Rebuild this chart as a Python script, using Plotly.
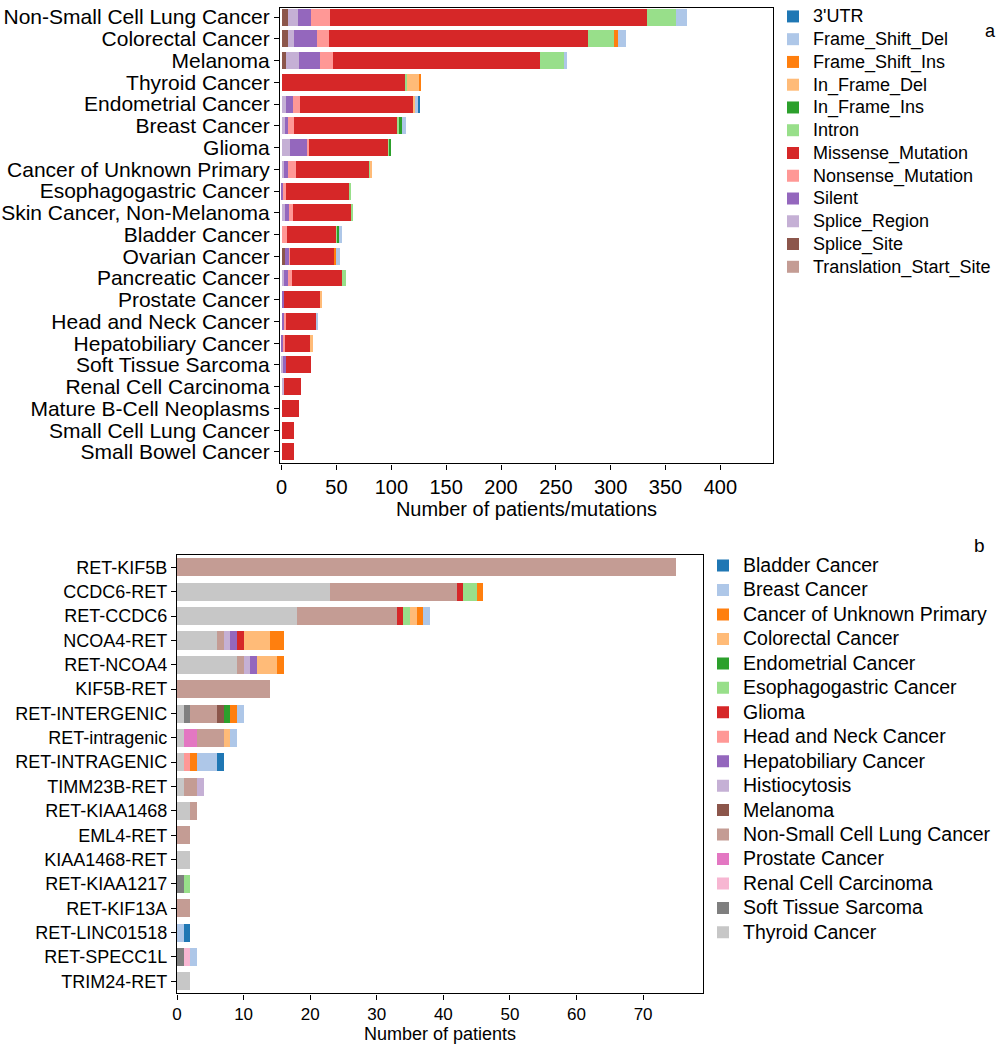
import plotly.graph_objects as go

# ---------------- Panel a data ----------------
cancers_a = ["Non-Small Cell Lung Cancer", "Colorectal Cancer", "Melanoma", "Thyroid Cancer",
             "Endometrial Cancer", "Breast Cancer", "Glioma", "Cancer of Unknown Primary",
             "Esophagogastric Cancer", "Skin Cancer, Non-Melanoma", "Bladder Cancer", "Ovarian Cancer",
             "Pancreatic Cancer", "Prostate Cancer", "Head and Neck Cancer", "Hepatobiliary Cancer",
             "Soft Tissue Sarcoma", "Renal Cell Carcinoma", "Mature B-Cell Neoplasms",
             "Small Cell Lung Cancer", "Small Bowel Cancer"]

translation_start_site = [0] * 21
splice_site = [6, 6, 4, 0, 0, 0, 0, 0, 0, 0, 0, 3, 0, 0, 0, 0, 0, 0, 0, 0, 0]
splice_region = [9, 5, 12, 0, 4, 3, 8, 2, 0, 3, 0, 0, 2, 0, 0, 0, 1, 2, 0, 0, 0]
silent = [12, 21, 19, 0, 6, 3, 16, 4, 1, 4, 0, 4, 4, 2, 3, 1, 3, 0, 0, 0, 0]
nonsense = [17, 11, 12, 0, 7, 5, 1, 7, 3, 3, 5, 1, 3, 0, 1, 2, 0, 0, 0, 0, 0]
missense = [289, 236, 189, 113, 103, 94, 72, 67, 58, 54, 45, 40, 46, 33, 28, 23, 23, 16, 16, 11, 11]
intron = [27, 24, 21, 1, 0, 2, 1, 1, 1, 1, 1, 0, 4, 0, 0, 0, 0, 0, 0, 0, 0]
in_frame_ins = [0, 0, 0, 0, 0, 3, 2, 0, 0, 0, 1, 0, 0, 0, 0, 0, 0, 0, 0, 0, 0]
in_frame_del = [0, 0, 0, 12, 2, 0, 0, 1, 0, 0, 0, 0, 0, 1, 0, 3, 0, 0, 0, 0, 0]
frame_shift_ins = [0, 4, 0, 1, 0, 0, 0, 0, 0, 0, 0, 2, 0, 0, 0, 0, 0, 0, 0, 0, 0]
frame_shift_del = [10, 7, 3, 0, 2, 3, 0, 0, 0, 0, 3, 3, 0, 0, 1, 0, 0, 0, 0, 0, 0]
utr3 = [0, 0, 0, 0, 2, 0, 0, 0, 0, 0, 0, 0, 0, 0, 0, 0, 0, 0, 0, 0, 0]

series_a = [
    ("Translation_Start_Site", translation_start_site, "#c49c94"),
    ("Splice_Site", splice_site, "#8c564b"),
    ("Splice_Region", splice_region, "#c5b0d5"),
    ("Silent", silent, "#9467bd"),
    ("Nonsense_Mutation", nonsense, "#ff9896"),
    ("Missense_Mutation", missense, "#d62728"),
    ("Intron", intron, "#98df8a"),
    ("In_Frame_Ins", in_frame_ins, "#2ca02c"),
    ("In_Frame_Del", in_frame_del, "#ffbb78"),
    ("Frame_Shift_Ins", frame_shift_ins, "#ff7f0e"),
    ("Frame_Shift_Del", frame_shift_del, "#aec7e8"),
    ("3'UTR", utr3, "#1f77b4"),
]
ticks_a = [0, 50, 100, 150, 200, 250, 300, 350, 400]

# ---------------- Panel b data ----------------
fusions = ["RET-KIF5B", "CCDC6-RET", "RET-CCDC6", "NCOA4-RET", "RET-NCOA4", "KIF5B-RET",
           "RET-INTERGENIC", "RET-intragenic", "RET-INTRAGENIC", "TIMM23B-RET", "RET-KIAA1468",
           "EML4-RET", "KIAA1468-RET", "RET-KIAA1217", "RET-KIF13A", "RET-LINC01518",
           "RET-SPECC1L", "TRIM24-RET"]

thyroid = [0, 23, 18, 6, 9, 0, 1, 1, 1, 1, 2, 0, 2, 0, 0, 0, 0, 2]
soft_tissue = [0, 0, 0, 0, 0, 0, 1, 0, 0, 0, 0, 0, 0, 1, 0, 0, 1, 0]
renal = [0, 0, 0, 0, 0, 0, 0, 0, 0, 0, 0, 0, 0, 0, 0, 0, 1, 0]
prostate = [0, 0, 0, 0, 0, 0, 0, 2, 0, 0, 0, 0, 0, 0, 0, 0, 0, 0]
nsclc = [75, 19, 15, 1, 1, 14, 4, 4, 0, 2, 1, 2, 0, 0, 2, 0, 0, 0]
melanoma = [0, 0, 0, 0, 0, 0, 1, 0, 0, 0, 0, 0, 0, 0, 0, 0, 0, 0]
histiocytosis = [0, 0, 0, 1, 1, 0, 0, 0, 0, 1, 0, 0, 0, 0, 0, 0, 0, 0]
hepatobiliary = [0, 0, 0, 1, 1, 0, 0, 0, 0, 0, 0, 0, 0, 0, 0, 0, 0, 0]
head_neck = [0, 0, 0, 0, 0, 0, 0, 0, 1, 0, 0, 0, 0, 0, 0, 0, 0, 0]
glioma = [0, 1, 1, 1, 0, 0, 0, 0, 0, 0, 0, 0, 0, 0, 0, 0, 0, 0]
esophagogastric = [0, 2, 1, 0, 0, 0, 0, 0, 0, 0, 0, 0, 0, 1, 0, 0, 0, 0]
endometrial = [0, 0, 0, 0, 0, 0, 1, 0, 0, 0, 0, 0, 0, 0, 0, 0, 0, 0]
colorectal = [0, 0, 1, 4, 3, 0, 0, 1, 0, 0, 0, 0, 0, 0, 0, 0, 0, 0]
unknown_primary = [0, 1, 1, 2, 1, 0, 1, 0, 1, 0, 0, 0, 0, 0, 0, 0, 0, 0]
breast = [0, 0, 1, 0, 0, 0, 1, 1, 3, 0, 0, 0, 0, 0, 0, 1, 1, 0]
bladder = [0, 0, 0, 0, 0, 0, 0, 0, 1, 0, 0, 0, 0, 0, 0, 1, 0, 0]

series_b = [
    ("Thyroid Cancer", thyroid, "#c7c7c7"),
    ("Soft Tissue Sarcoma", soft_tissue, "#7f7f7f"),
    ("Renal Cell Carcinoma", renal, "#f7b6d2"),
    ("Prostate Cancer", prostate, "#e377c2"),
    ("Non-Small Cell Lung Cancer", nsclc, "#c49c94"),
    ("Melanoma", melanoma, "#8c564b"),
    ("Histiocytosis", histiocytosis, "#c5b0d5"),
    ("Hepatobiliary Cancer", hepatobiliary, "#9467bd"),
    ("Head and Neck Cancer", head_neck, "#ff9896"),
    ("Glioma", glioma, "#d62728"),
    ("Esophagogastric Cancer", esophagogastric, "#98df8a"),
    ("Endometrial Cancer", endometrial, "#2ca02c"),
    ("Colorectal Cancer", colorectal, "#ffbb78"),
    ("Cancer of Unknown Primary", unknown_primary, "#ff7f0e"),
    ("Breast Cancer", breast, "#aec7e8"),
    ("Bladder Cancer", bladder, "#1f77b4"),
]
ticks_b = [0, 10, 20, 30, 40, 50, 60, 70]

FONT = "Liberation Sans, Arial, sans-serif"
W, H = 1005, 1050

fig = go.Figure()
for name, vals, col in series_a:
    fig.add_trace(go.Bar(x=vals, y=cancers_a, orientation="h",
                         name='<span style="font-size:18px">%s</span>' % name,
                         marker=dict(color=col, line=dict(width=0)), width=0.78,
                         xaxis="x", yaxis="y", legend="legend"))
for name, vals, col in series_b:
    fig.add_trace(go.Bar(x=vals, y=fusions, orientation="h",
                         name='<span style="font-size:19.5px">%s</span>' % name,
                         marker=dict(color=col, line=dict(width=0)), width=0.74,
                         xaxis="x2", yaxis="y2", legend="legend2"))


def px_x(p):
    return p / W


def px_y(p):
    return 1 - p / H


axis_common = dict(showline=True, linecolor="black", linewidth=1.3, mirror=True,
                   showgrid=False, zeroline=False, ticks="outside", ticklen=5,
                   tickcolor="black", automargin=False)

fig.update_layout(
    width=W, height=H,
    margin=dict(l=0, r=0, t=0, b=0),
    paper_bgcolor="white", plot_bgcolor="white",
    barmode="stack",
    font=dict(family=FONT, color="black"),
    xaxis=dict(domain=[px_x(280), px_x(773)], range=[-1.5, 448], anchor="y",
               tickvals=ticks_a, tickfont=dict(size=20),
               title=dict(text="Number of patients/mutations", font=dict(size=20), standoff=3),
               **axis_common),
    yaxis=dict(domain=[px_y(459.5), px_y(1)], range=[20.53, -0.42], anchor="x",
               type="category", categoryorder="array", categoryarray=cancers_a,
               tickmode="linear", tick0=0, dtick=1,
               tickfont=dict(size=21), **axis_common),
    xaxis2=dict(domain=[px_x(177), px_x(703)], range=[0, 79], anchor="y2",
                tickvals=ticks_b, tickfont=dict(size=17),
                title=dict(text="Number of patients", font=dict(size=18), standoff=0),
                **axis_common),
    yaxis2=dict(domain=[px_y(993), px_y(552)], range=[17.5, -0.5], anchor="x2",
                type="category", categoryorder="array", categoryarray=fusions,
                tickmode="linear", tick0=0, dtick=1,
                tickfont=dict(size=18), **axis_common),
    legend=dict(x=px_x(773), y=px_y(-7), xanchor="left", yanchor="top",
                traceorder="reversed", font=dict(size=15.2), bgcolor="rgba(0,0,0,0)",
                tracegroupgap=0),
    legend2=dict(x=px_x(703), y=px_y(545), xanchor="left", yanchor="top",
                 traceorder="reversed", font=dict(size=16.5), bgcolor="rgba(0,0,0,0)",
                 tracegroupgap=0),
    annotations=[
        dict(text="a", x=px_x(998), y=px_y(12), xref="paper", yref="paper",
             showarrow=False, font=dict(size=18)),
        dict(text="b", x=px_x(987), y=px_y(542), xref="paper", yref="paper",
             showarrow=False, font=dict(size=19)),
    ],
)

fig.write_html("out.html", config={"displayModeBar": False},
               post_script="document.body.style.margin='0px';")
